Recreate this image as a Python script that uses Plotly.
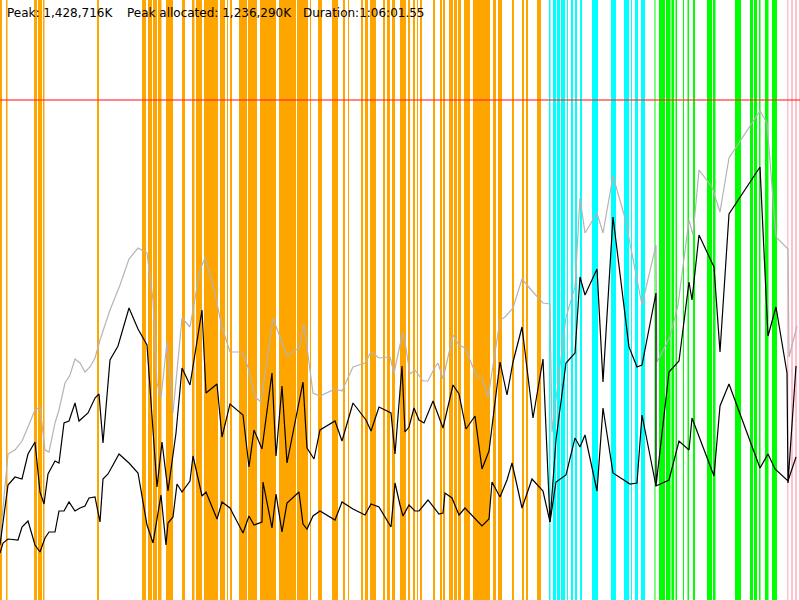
import plotly.graph_objects as go

# ── Heap samples (x = time position, y = screen row, 0 at top) ─────────────
heap_x = [0, 8, 15, 22, 28, 35, 40, 45, 49, 55,
          59, 65, 70, 75, 80, 85, 90, 95, 100, 110,
          120, 129, 138, 147, 153, 157, 161, 167, 173, 182,
          190, 200, 205, 213, 222, 230, 242, 248, 255, 261,
          273, 287, 299, 304, 313, 320, 335, 342, 353, 365,
          371, 379, 390, 394, 400, 403, 405, 410, 415, 423,
          428, 435, 438, 443, 453, 459, 465, 477, 482, 488,
          500, 505, 513, 522, 533, 543, 550, 552, 566, 575,
          580, 585, 597, 603, 613, 625, 642, 656, 657, 670,
          678, 689, 693, 699, 712, 720, 729, 760, 767, 776,
          788, 789, 797]
heap_y = [540, 454, 450, 441, 427, 410, 407, 450, 452, 423,
          410, 383, 375, 359, 363, 372, 367, 358, 340, 310,
          285, 259, 248, 253, 300, 383, 398, 342, 413, 318,
          327, 270, 258, 285, 327, 352, 352, 367, 397, 402,
          318, 356, 348, 324, 393, 396, 389, 391, 367, 363,
          352, 358, 357, 373, 345, 333, 342, 374, 370, 381,
          381, 367, 363, 379, 335, 345, 348, 377, 378, 398,
          320, 317, 308, 279, 292, 303, 304, 432, 317, 287,
          198, 233, 213, 233, 176, 218, 305, 245, 362, 337,
          305, 220, 235, 170, 187, 212, 158, 111, 123, 237,
          249, 357, 326]

used_x = [0, 8, 15, 22, 28, 35, 40, 44, 48, 55,
          59, 64, 69, 75, 79, 88, 95, 99, 103, 110,
          118, 129, 138, 147, 157, 162, 168, 176, 182, 190,
          202, 206, 217, 222, 230, 243, 249, 254, 262, 272,
          276, 282, 287, 303, 307, 314, 320, 335, 342, 353,
          366, 371, 379, 391, 395, 402, 405, 409, 414, 419,
          424, 433, 443, 453, 459, 466, 475, 482, 489, 500,
          507, 513, 522, 530, 533, 543, 550, 556, 566, 575,
          580, 585, 597, 603, 613, 629, 637, 642, 656, 656,
          669, 679, 689, 692, 699, 714, 720, 729, 760, 768,
          776, 787, 788, 796]
used_y = [545, 485, 477, 479, 454, 442, 492, 504, 474, 461,
          463, 423, 421, 403, 421, 413, 398, 394, 443, 360,
          346, 308, 329, 345, 487, 442, 491, 433, 368, 385,
          310, 393, 384, 437, 404, 415, 467, 430, 449, 373,
          456, 386, 463, 382, 448, 459, 430, 421, 441, 403,
          420, 431, 407, 413, 454, 366, 432, 427, 408, 420,
          423, 401, 428, 385, 394, 429, 416, 469, 451, 362,
          395, 362, 327, 393, 418, 359, 522, 440, 363, 353,
          277, 295, 269, 382, 217, 347, 367, 365, 293, 486,
          372, 361, 282, 300, 235, 267, 352, 214, 167, 336,
          307, 373, 483, 366]

live_x = [0, 3, 8, 18, 22, 28, 35, 40, 45, 49,
          55, 59, 64, 69, 75, 80, 85, 89, 95, 100,
          103, 108, 113, 119, 129, 138, 147, 153, 161, 166,
          168, 173, 177, 182, 190, 193, 200, 202, 206, 217,
          222, 230, 243, 249, 254, 262, 263, 272, 276, 282,
          287, 299, 303, 307, 313, 320, 335, 342, 353, 365,
          371, 379, 391, 395, 400, 403, 409, 415, 419, 428,
          439, 443, 445, 452, 459, 465, 482, 489, 492, 500,
          507, 512, 522, 532, 543, 550, 556, 566, 575, 580,
          585, 597, 603, 613, 630, 637, 642, 656, 669, 679,
          689, 692, 714, 720, 729, 760, 768, 775, 788, 796]
live_y = [553, 543, 539, 540, 527, 521, 545, 552, 538, 532,
          532, 511, 511, 502, 511, 508, 506, 498, 497, 522,
          479, 474, 465, 454, 463, 473, 525, 543, 495, 545,
          523, 517, 484, 492, 481, 456, 487, 496, 492, 519,
          502, 508, 533, 516, 525, 522, 482, 528, 494, 532,
          503, 492, 524, 529, 516, 511, 520, 502, 509, 515,
          504, 507, 527, 483, 505, 516, 505, 511, 511, 500,
          514, 513, 493, 498, 515, 508, 526, 519, 482, 497,
          480, 463, 508, 479, 491, 522, 482, 475, 438, 447,
          435, 491, 408, 473, 484, 483, 415, 486, 480, 441,
          450, 418, 476, 406, 384, 468, 454, 469, 481, 457]

peak_row = 100

# ── GC / event bands (start, end) ──────────────────────────────────────────
orange_bands = [(0, 2), (6, 7.5), (34, 37), (38, 42), (43, 44.5), (97, 99),
                (142, 146), (148, 152), (153, 157), (158, 161.5), (166, 173),
                (182, 185), (192, 194.5), (196, 202), (204, 218), (220, 225),
                (227, 228), (230, 232), (239, 247), (248, 257), (260, 276),
                (279, 296), (297, 308), (310, 311), (318, 322), (332, 338),
                (343, 345), (348, 349), (361, 363), (365, 368), (370, 376),
                (383, 385), (387, 390), (392, 395), (400, 406), (408, 410),
                (413, 415), (417, 418), (420, 422), (433, 435), (440, 442),
                (443, 445), (449, 453), (454, 457), (458, 461), (464, 470),
                (473, 490), (493, 496), (498, 502), (512, 514), (522, 524),
                (526, 528), (537, 541)]
cyan_bands = [(549, 550.5), (553, 556), (557, 560), (561, 565), (567, 568),
              (571, 573), (575, 577), (580, 582), (592, 598), (611, 616),
              (624, 629), (631, 632), (635, 638), (641, 645)]
green_bands = [(654.5, 655.5), (659, 665), (666, 670.5), (671.5, 674),
               (675.5, 677), (683, 684), (687.5, 689), (693, 695), (707, 712),
               (713, 715.5), (735, 741), (750, 753), (754, 757), (759, 760.5),
               (765, 768.5), (772, 777)]
pink_bands = [(787, 788.5), (791, 793), (795, 797), (799, 800)]

stats = ["Peak: 1,428,716K", "Peak allocated: 1,236,290K", "Duration:1:06:01.55"]
stats_x = [5, 125, 301]


fig = go.Figure()

shapes = []
for bands, color in [(orange_bands, "#FFA500"), (cyan_bands, "#00FFFF"),
                     (green_bands, "#00FF00"), (pink_bands, "#FFC0CB")]:
    for x0, x1 in bands:
        shapes.append(dict(type="rect", xref="x", yref="paper", x0=x0, x1=x1,
                           y0=0, y1=1, fillcolor=color, line_width=0, layer="below"))

fig.add_trace(go.Scatter(x=heap_x, y=heap_y, mode="lines",
                         line=dict(color="#b4b4b4", width=1.2)))
fig.add_trace(go.Scatter(x=used_x, y=used_y, mode="lines",
                         line=dict(color="black", width=1.2)))
fig.add_trace(go.Scatter(x=live_x, y=live_y, mode="lines",
                         line=dict(color="black", width=1.2)))
fig.add_trace(go.Scatter(x=[0, 800], y=[peak_row, peak_row], mode="lines",
                         line=dict(color="rgba(255,40,40,0.75)", width=1.5)))

for txt, tx in zip(stats, stats_x):
    fig.add_annotation(x=tx, y=13, text=txt, showarrow=False, xanchor="left",
                       yanchor="middle", font=dict(family="DejaVu Sans", size=12, color="black"))

fig.update_layout(width=800, height=600, margin=dict(l=0, r=0, t=0, b=0),
                  plot_bgcolor="white", paper_bgcolor="white",
                  showlegend=False, shapes=shapes)
fig.update_xaxes(range=[0, 800], visible=False, fixedrange=True)
fig.update_yaxes(range=[600, 0], visible=False, fixedrange=True)

# page body has a default 8px margin; drop it so the chart fills the window
fig.write_html("out.html", config={"displayModeBar": False},
               post_script="document.body.style.margin='0';document.body.style.overflow='hidden';")
